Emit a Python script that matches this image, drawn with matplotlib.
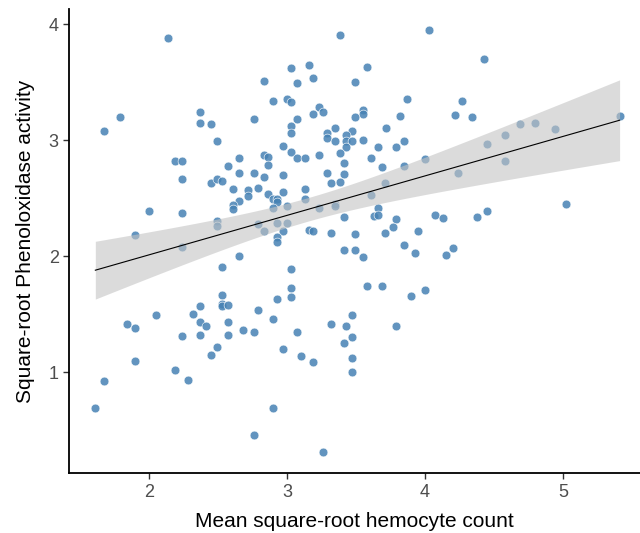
import numpy as np
import matplotlib
matplotlib.use('Agg')
import matplotlib.pyplot as plt

plt.rcParams['font.family'] = ['Liberation Sans', 'DejaVu Sans']

# mean square-root hemocyte count
hemocytes = [
    2.14, 1.79, 1.67, 2.37, 2.37, 2.45, 2.76, 2.49, 2.19, 2.24, 2.65, 2.57,
    3.38, 4.03, 3.03, 3.16, 3.58, 2.83, 3.07, 3.19, 3.49, 2.90, 3.00, 3.03,
    3.87, 3.23, 3.19, 3.26, 3.55, 3.55, 3.49, 3.82, 3.07, 3.03, 3.03, 3.35,
    3.47, 3.72, 3.29, 3.29, 3.43, 3.35, 3.43, 3.47, 3.55, 3.85, 2.97, 3.43,
    3.66, 3.79, 2.83, 2.86, 3.03, 3.07, 3.13, 3.23, 3.38, 3.61, 2.86, 3.41,
    3.69, 3.85, 4.00, 4.43, 4.27, 4.22, 4.34, 4.45, 4.58, 4.69, 4.80, 4.94,
    5.41, 4.58, 2.24, 2.65, 2.76, 2.45, 2.49, 2.53, 2.61, 2.72, 2.79, 2.65,
    2.72, 2.61, 2.61, 2.00, 2.24, 2.49, 2.49, 1.90, 2.79, 2.24, 2.65, 2.53,
    2.53, 2.37, 2.53, 2.53, 2.57, 2.79, 2.05, 2.32, 2.37, 2.41, 2.57, 1.84,
    1.90, 2.83, 2.97, 3.29, 3.41, 3.32, 3.38, 3.13, 3.71, 2.86, 2.97, 2.90,
    2.93, 2.93, 3.13, 3.61, 2.90, 3.00, 3.23, 3.35, 3.35, 3.66, 3.41, 3.63,
    3.66, 3.79, 4.07, 4.13, 2.93, 3.00, 2.83, 2.97, 3.16, 3.19, 3.32, 3.49,
    3.71, 3.77, 3.95, 2.93, 2.93, 3.85, 3.41, 3.49, 3.55, 3.93, 4.20, 4.15,
    3.03, 3.03, 3.58, 3.69, 4.00, 2.93, 3.03, 3.90, 2.90, 3.47, 3.32, 3.43,
    3.79, 4.24, 4.38, 4.45, 5.02, 2.24, 2.37, 2.57, 2.68, 2.76, 2.49, 2.45,
    1.90, 2.19, 1.67, 2.28, 1.61, 2.76, 3.07, 2.97, 3.10, 3.19, 3.41, 3.47,
    3.47, 3.47, 2.90, 3.26,
]

# square-root phenoloxidase activity
phenoloxidase = [
    3.88, 3.20, 3.08, 3.24, 3.15, 3.14, 3.18, 2.99, 2.82, 2.82, 2.85, 2.78,
    3.91, 3.95, 3.62, 3.65, 3.63, 3.51, 3.49, 3.54, 3.50, 3.34, 3.36, 3.33,
    3.36, 3.29, 3.23, 3.24, 3.26, 3.23, 3.20, 3.21, 3.18, 3.12, 3.06, 3.11,
    3.08, 3.11, 3.06, 3.02, 3.05, 2.99, 2.99, 2.99, 3.00, 2.99, 2.95, 2.94,
    2.94, 2.94, 2.87, 2.86, 2.90, 2.85, 2.85, 2.87, 2.89, 2.85, 2.79, 2.80,
    2.77, 2.78, 2.84, 3.70, 3.34, 3.22, 3.20, 2.97, 3.05, 3.14, 3.15, 3.10,
    3.21, 2.82, 2.67, 2.72, 2.72, 2.63, 2.67, 2.65, 2.58, 2.57, 2.59, 2.48,
    2.52, 2.44, 2.41, 2.39, 2.37, 2.30, 2.26, 2.18, 2.28, 2.08, 2.00, 1.91,
    1.67, 1.57, 1.59, 1.57, 1.58, 1.54, 1.49, 1.50, 1.43, 1.40, 1.43, 1.42,
    1.38, 2.68, 2.70, 2.72, 2.71, 2.63, 2.64, 2.58, 2.63, 2.54, 2.55, 2.49,
    2.49, 2.47, 2.49, 2.53, 2.42, 2.43, 2.42, 2.45, 2.43, 2.42, 2.34, 2.35,
    2.36, 2.32, 2.36, 2.33, 2.29, 2.29, 2.22, 2.22, 2.23, 2.22, 2.20, 2.19,
    2.20, 2.25, 2.22, 2.17, 2.12, 2.10, 2.05, 2.05, 1.99, 2.03, 2.07, 2.01,
    1.89, 1.73, 1.74, 1.74, 1.71, 1.63, 1.65, 1.66, 1.46, 1.49, 1.42, 1.40,
    1.40, 2.72, 2.34, 2.39, 2.45, 1.31, 1.32, 1.32, 1.36, 1.35, 1.22, 1.15,
    1.10, 1.02, 0.92, 0.93, 0.69, 0.46, 1.35, 1.20, 1.14, 1.09, 1.25, 1.30,
    1.12, 1.00, 0.69, 0.31,
]

x = np.array(hemocytes)
y = np.array(phenoloxidase)

# linear fit with 95% confidence band
slope, intercept = np.polyfit(x, y, 1)
xs = np.linspace(x.min(), x.max(), 100)
ys = intercept + slope * xs
n = len(x)
resid = y - (intercept + slope * x)
s = np.sqrt(np.sum(resid ** 2) / (n - 2))
sxx = np.sum((x - x.mean()) ** 2)
se = s * np.sqrt(1 / n + (xs - x.mean()) ** 2 / sxx)
t = 1.972
lo, hi = ys - t * se, ys + t * se

fig = plt.figure(figsize=(6.4, 5.33), dpi=100)
ax = fig.add_axes([0.108, 0.112, 0.892, 0.871])

ax.scatter(x, y, s=40, color='#4682B4', alpha=0.85, edgecolors='white',
           linewidths=0.5, zorder=2)
ax.fill_between(xs, lo, hi, color='#c4c4c4', alpha=0.6, linewidth=0, zorder=3)
ax.plot(xs, ys, color='black', lw=0.8, zorder=4)

ax.set_xlim(1.42, 5.558)
ax.set_ylim(0.128, 4.132)
ax.set_xticks([2, 3, 4, 5])
ax.set_yticks([1, 2, 3, 4])

for side in ['top', 'right']:
    ax.spines[side].set_visible(False)
for side in ['left', 'bottom']:
    ax.spines[side].set_linewidth(1.3)
    ax.spines[side].set_color('black')

ax.tick_params(axis='both', colors='#333333', labelsize=13, length=4, width=1,
               labelcolor='#4d4d4d')
ax.set_xlabel('Mean square-root hemocyte count', fontsize=15, labelpad=8)
ax.set_ylabel('Square-root Phenoloxidase activity', fontsize=15, labelpad=10)

fig.savefig('out.png', dpi=100, facecolor='white')
